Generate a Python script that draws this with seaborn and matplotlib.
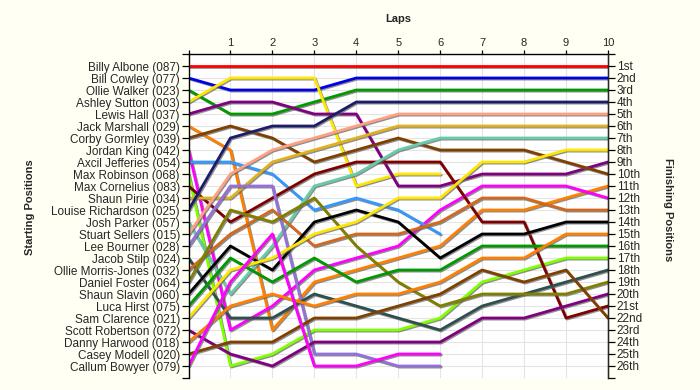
import matplotlib
matplotlib.use("Agg")
import matplotlib.pyplot as plt
import matplotlib.patheffects as pe
import pandas as pd
import seaborn as sns

# laps: 0 = starting grid
laps = [0, 1, 2, 3, 4, 5, 6, 7, 8, 9, 10]

starters = [
    "Billy Albone (087)", "Bill Cowley (077)", "Ollie Walker (023)", "Ashley Sutton (003)",
    "Lewis Hall (037)", "Jack Marshall (029)", "Corby Gormley (039)", "Jordan King (042)",
    "Axcil Jefferies (054)", "Max Robinson (068)", "Max Cornelius (083)", "Shaun Pirie (034)",
    "Louise Richardson (025)", "Josh Parker (057)", "Stuart Sellers (015)", "Lee Bourner (028)",
    "Jacob Stilp (024)", "Ollie Morris-Jones (032)", "Daniel Foster (064)", "Shaun Slavin (060)",
    "Luca Hirst (075)", "Sam Clarence (021)", "Scott Robertson (072)", "Danny Harwood (018)",
    "Casey Modell (020)", "Callum Bowyer (079)",
]

colors = [
    "#ff0000", "#0000e6", "#009900", "#ffe600", "#800080", "#ff8000", "#804000", "#ff00ff",
    "#3399ff", "#80ff00", "#800000", "#e0b020", "#1c1c6c", "#66ccaa", "#ffa080", "#9370db",
    "#2f4f4f", "#d2691e", "#808000", "#000000", "#009900", "#ffe600", "#800080", "#ff8000",
    "#804000", "#ff00ff",
]

# position after each lap (None = retired)
albone = [1, 1, 1, 1, 1, 1, 1, 1, 1, 1, 1]
cowley = [2, 3, 3, 3, 2, 2, 2, 2, 2, 2, 2]
walker = [3, 5, 5, 4, 3, 3, 3, 3, 3, 3, 3]
sutton = [4, 2, 2, 2, 11, 10, 10, None, None, None, None]
hall = [5, 4, 4, 5, 5, 11, 11, 10, 10, 10, 9]
marshall = [6, 8, 23, 19, 18, 17, 16, 13, 13, 12, 11]
gormley = [7, 6, 7, 9, 8, 7, 8, 8, 8, 9, 10]
king = [8, 23, 21, 18, 17, 16, 13, 11, 11, 11, 12]
jefferies = [9, 9, 10, 13, 12, 13, 15, None, None, None, None]
robinson = [10, 26, 25, 23, 23, 23, 22, 19, 18, 17, 17]
cornelius = [11, 14, 12, 10, 9, 9, 9, 14, 14, 22, 21]
pirie = [12, 12, 9, 8, 7, 6, 6, 6, 6, 6, 6]
richardson = [13, 7, 6, 6, 4, 4, 4, 4, 4, 4, 4]
parker = [14, 20, 16, 11, 10, 8, 7, 7, 7, 7, 7]
sellers = [15, 10, 8, 7, 6, 5, 5, 5, 5, 5, 5]
bourner = [16, 11, 11, 25, 25, 26, 26, None, None, None, None]
stilp = [17, 22, 22, 20, 21, 22, 23, 21, 20, 19, 18]
morris_jones = [18, 15, 13, 16, 15, 15, 14, 12, 12, 13, 13]
foster = [19, 13, 14, 12, 16, 19, 21, 20, 20, 20, 19]
slavin = [20, 16, 18, 14, 13, 14, 17, 15, 15, 14, 14]
hirst = [21, 17, 19, 17, 19, 18, 18, 16, 16, 16, 16]
clarence = [22, 18, 17, 15, 14, 12, 12, 9, 9, 8, 8]
robertson = [23, 25, 26, 24, 24, 24, 24, 22, 22, 21, 20]
harwood = [24, 21, 20, 21, 20, 20, 19, 17, 17, 15, 15]
modell = [25, 24, 24, 22, 22, 21, 20, 18, 19, 18, 22]
bowyer = [26, 19, 15, 26, 26, 25, 25, None, None, None, None]

finish_labels = [
    "1st", "2nd", "3rd", "4th", "5th", "6th", "7th", "8th", "9th", "10th", "11th", "12th", "13th",
    "14th", "15th", "16th", "17th", "18th", "19th", "20th", "21st", "22nd", "23rd", "24th",
    "25th", "26th",
]

traces = [albone, cowley, walker, sutton, hall, marshall, gormley, king, jefferies, robinson,
          cornelius, pirie, richardson, parker, sellers, bourner, stilp, morris_jones, foster,
          slavin, hirst, clarence, robertson, harwood, modell, bowyer]

rows = []
for name, trace in zip(starters, traces):
    for lap, pos in zip(laps, trace):
        if pos is not None:
            rows.append({"driver": name, "lap": lap, "pos": pos})
df = pd.DataFrame(rows)

sns.set_style("white")
plt.rcParams["font.family"] = ["Liberation Sans", "DejaVu Sans"]

fig = plt.figure(figsize=(7, 3.9), dpi=100, facecolor="#fffff4")
ax = fig.add_axes([188.5 / 700, 1 - 378 / 390, (608 - 188.5) / 700, (378 - 54) / 390])
ax.set_facecolor("white")

sns.lineplot(data=df, x="lap", y="pos", hue="driver", hue_order=starters,
             palette=dict(zip(starters, colors)), estimator=None, sort=False,
             legend=False, linewidth=2.0, ax=ax,
             path_effects=[pe.SimpleLineShadow(offset=(0.8, -0.8), shadow_color="#606060", alpha=0.7),
                           pe.Normal()])

ax.set_xlim(0, 10)
ax.set_ylim(27, 0)
ax.xaxis.tick_top()
ax.set_xticks(range(0, 11))
ax.set_xticklabels([""] + [str(i) for i in range(1, 11)], fontsize=8)
ax.set_yticks(range(0, 28))
ax.set_yticklabels([""] + starters + [""], fontsize=8.5)
ax.set_xlabel("")
ax.set_ylabel("")
ax.grid(True, color="#e4e4e4", linewidth=0.8)
ax.set_axisbelow(True)
ax.tick_params(axis="y", direction="out", length=4.7, width=0.9, color="black", pad=1.5)
ax.tick_params(axis="x", direction="out", length=3, width=0.9, color="black", pad=1)
for side in ["bottom"]:
    ax.spines[side].set_visible(False)
for side in ["left", "right", "top"]:
    ax.spines[side].set_color("black")
    ax.spines[side].set_linewidth(1.0)

ax2 = ax.twinx()
ax2.set_ylim(27, 0)
ax2.set_yticks(range(0, 28))
ax2.set_yticklabels([""] + finish_labels + [""], fontsize=8.5)
ax2.tick_params(axis="y", direction="out", length=4.7, width=0.9, color="black", pad=1.5)
for side in ["top", "bottom", "left"]:
    ax2.spines[side].set_visible(False)

fig.text(398 / 700, 1 - 19 / 390, "Laps", ha="center", va="center", fontsize=8, fontweight="bold")
fig.text(30 / 700, 1 - 207 / 390, "Starting Positions", ha="center", va="center",
         rotation=90, fontsize=8, fontweight="bold")
fig.text(668 / 700, 1 - 210 / 390, "Finishing Positions", ha="center", va="center",
         rotation=-90, fontsize=8, fontweight="bold")

fig.savefig("out.png", dpi=100, facecolor=fig.get_facecolor())
